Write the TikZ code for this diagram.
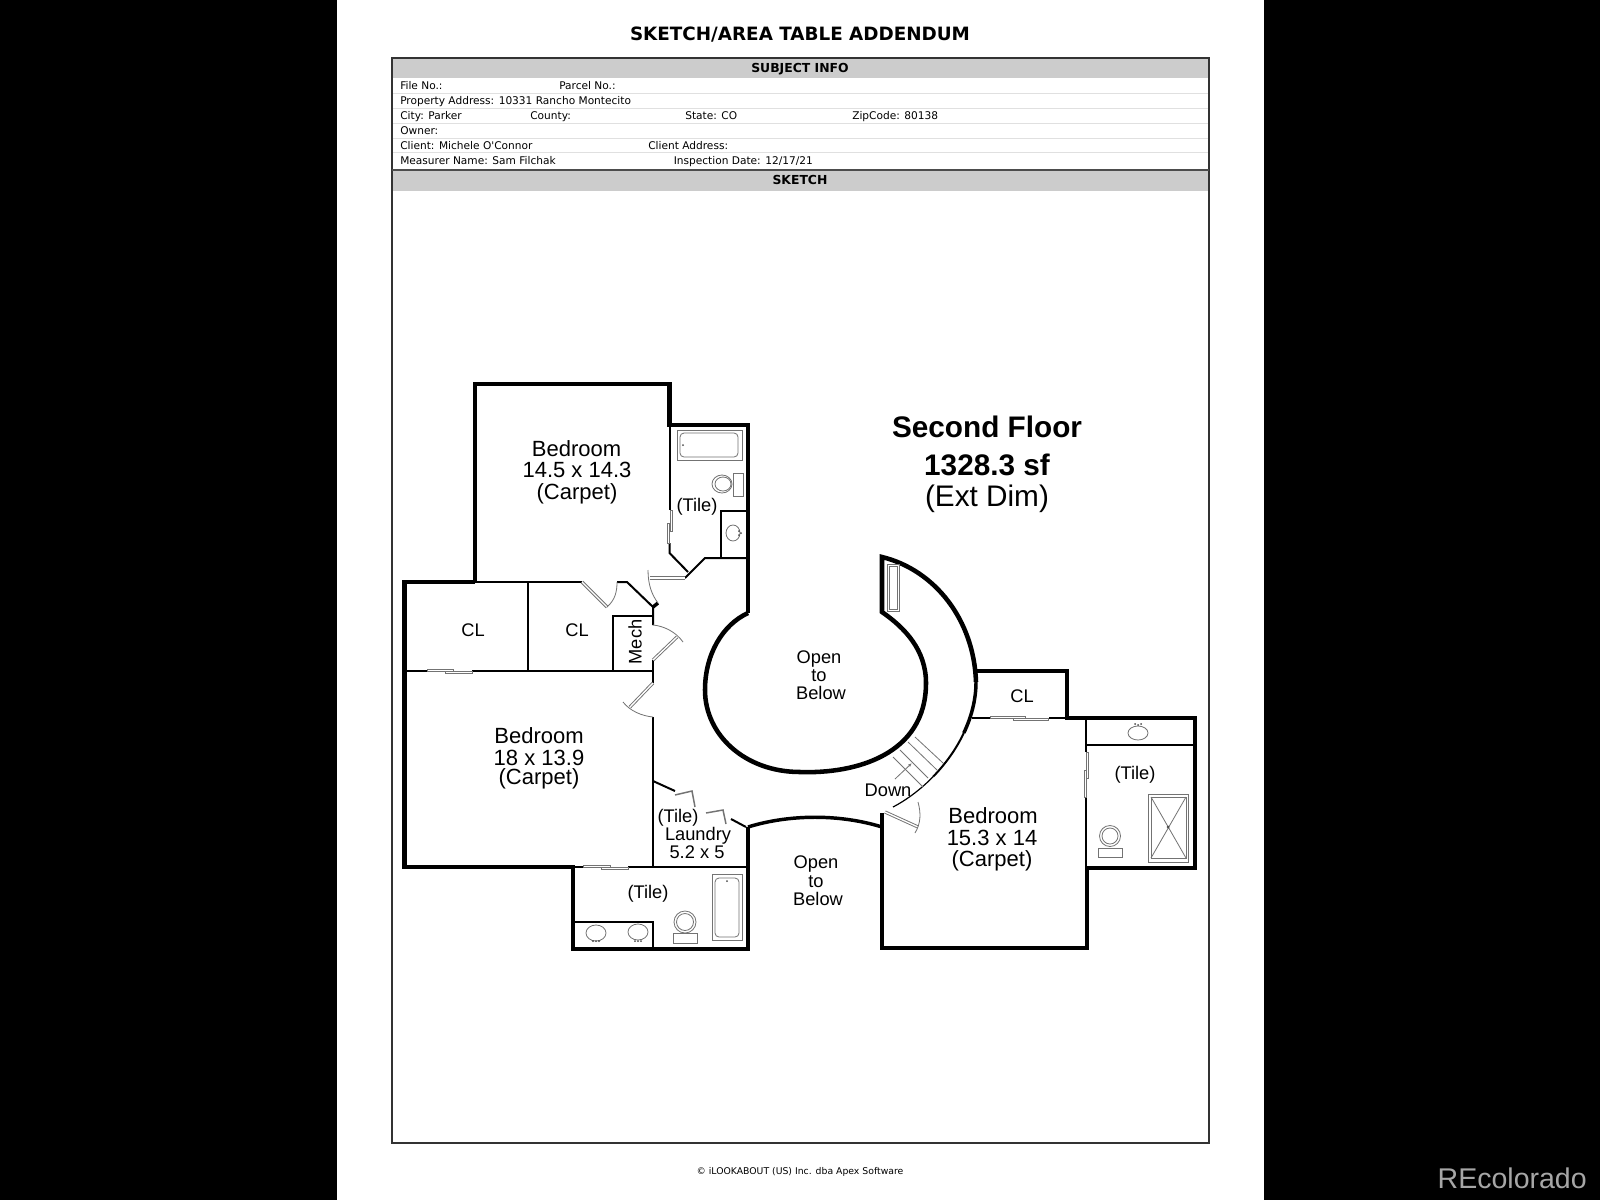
\documentclass[tikz,border=0pt]{standalone}
\usepackage{fontspec}
\usetikzlibrary{arrows.meta}
\setmainfont{Liberation Sans}
\newfontfamily\verd{DejaVu Sans}
\definecolor{hdr}{gray}{0.80}
\definecolor{dr}{gray}{0.45}
\tikzset{
 wall/.style={line width=3.4pt,line join=miter,miter limit=10},
 mid/.style={line width=2.6pt,line join=miter},
 thinw/.style={line width=1.5pt,line join=miter},
 doorl/.style={line width=0.6pt,draw=dr},
 fix/.style={line width=0.6pt,draw=black!55},
 big/.style={inner sep=0pt,anchor=base,font=\fontsize{16.5}{16.5}\selectfont},
 small/.style={inner sep=0pt,anchor=base,font=\fontsize{13.7}{13.7}\selectfont},
 huge/.style={inner sep=0pt,anchor=base,font=\fontsize{22.3}{22.3}\selectfont},
 hugeb/.style={inner sep=0pt,anchor=base,font=\bfseries\fontsize{22.3}{22.3}\selectfont},
 row/.style={inner sep=0pt,anchor=base west,font=\verd\fontsize{7.95}{7.95}\selectfont},
 hd/.style={inner sep=0pt,anchor=base,font=\verd\bfseries\fontsize{9.3}{9.3}\selectfont}
}
\newcommand{\slider}[4]{\fill[white,draw=dr,line width=0.5pt] (#1,#2) rectangle (#3,#4);}
\newcommand{\leaf}[4]{\draw[dr,line width=2.4pt] (#1,#2)--(#3,#4);\draw[white,line width=1pt] (#1,#2)--(#3,#4);}
\begin{document}
\begin{tikzpicture}[x=0.75pt,y=-0.75pt]
\useasboundingbox (0,0) rectangle (1600,1200);
\fill[black] (0,0) rectangle (1600,1200);
\fill[white] (337,0) rectangle (1264,1200);
% table
\node[inner sep=0pt,anchor=base,font=\verd\bfseries\fontsize{13.75}{13.75}\selectfont] (title) at (800,40) {SKETCH/AREA TABLE ADDENDUM};
\fill[hdr] (392,58) rectangle (1209,78);
\fill[hdr] (392,170) rectangle (1209,191);
\foreach \yy in {93,108,123,138,152}{\draw[black!12,line width=0.7pt] (392,\yy)--(1209,\yy);}
\draw[black!80,line width=0.9pt] (392,58) rectangle (1209,1143);
\draw[black!70,line width=0.9pt] (392,170)--(1209,170);
\node[hd] (h1) at (800,72) {SUBJECT INFO};
\node[hd] (h2) at (800,184) {SKETCH};
\node[row] (r1) at (400,89.5) {File No.:};
\node[row] (r1b) at (559,89.5) {Parcel No.:};
\node[row] (r2) at (400,104) {Property Address: 10331 Rancho Montecito};
\node[row] (r3) at (400,119) {City: Parker};
\node[row] (r3b) at (530,119) {County:};
\node[row] (r3c) at (685,119) {State: CO};
\node[row] (r3d) at (852,119) {ZipCode: 80138};
\node[row] (r4) at (400,134) {Owner:};
\node[row] (r5) at (400,149) {Client: Michele O'Connor};
\node[row] (r5b) at (648,149) {Client Address:};
\node[row] (r6) at (400,164) {Measurer Name: Sam Filchak};
\node[row] (r6b) at (673.5,164) {Inspection Date: 12/17/21};
\node[inner sep=0pt,font=\verd\fontsize{6.97}{6.97}\selectfont] (foot) at (800,1171.5) {© iLOOKABOUT (US) Inc. dba Apex Software};
\node[inner sep=0pt,anchor=east,text=black!35,font=\fontsize{21.4}{21.4}\selectfont] (wm) at (1587,1178) {REcolorado};
% thick outer walls
\draw[wall] (475,582)--(475,384)--(669.5,384)--(669.5,425)--(748,425)--(748,613);
\draw[wall] (475,582)--(404.5,582)--(404.5,867)--(573,867)--(573,949)--(748,949)--(748,827);
\draw[wall] (977,671)--(1067,671)--(1067,718)--(1195,718)--(1195,868)--(1087,868)--(1087,948)--(882,948)--(882,813);
% curved void walls
\draw[wall] (748,613) .. controls (722,625) and (705,655) .. (705,690)
  .. controls (705,735) and (745,772) .. (800,772)
  .. controls (855,774) and (926,755) .. (926,683)
  .. controls (926,650) and (905,628) .. (882,612) -- (882,557)
  .. controls (935,570) and (974,620) .. (976,682);
\draw[mid] (976,682) .. controls (976,699.7) and (971.4,717) .. (963.8,733);
\draw[thinw] (963.8,733) .. controls (956.2,749.1) and (945.5,763.9) .. (933.2,776.6);
\draw[line width=0.9pt] (933.2,776.6) .. controls (920.9,789.2) and (907,799.7) .. (893,807);
\draw[mid] (748,827) .. controls (790,814) and (840,814) .. (882,827);
% thin interior
\draw[thinw] (475,582)--(582,582);
\draw[thinw] (617,582)--(627,582)--(653,607)--(653,625);
\draw[mid] (653,607)--(658,603);
\draw[thinw] (653,660)--(653,683);
\draw[thinw] (404,671)--(427,671);
\draw[thinw] (472,671)--(653,671);
\draw[thinw] (528,582)--(528,671);
\draw[thinw] (613,671)--(613,616)--(653,616);
\draw[thinw] (669.5,425)--(669.5,510);
\draw[thinw] (669.5,543)--(669.5,553)--(688,572);
\draw[thinw] (685,578)--(705,558)--(748,558);
\draw[thinw] (721,558)--(721,511)--(748,511);
\draw[thinw] (653,717)--(653,867);
\draw[thinw] (628,867)--(748,867);
\draw[thinw] (573,867)--(583,867);
\draw[thinw] (653,781)--(675,791);
\draw[thinw] (731,819)--(746,827);
\draw[thinw] (573,922)--(653,922)--(653,949);
\draw[thinw] (972,718)--(990,718);
\draw[thinw] (1049,718)--(1067,718);
\draw[thinw] (1086,718)--(1086,752);
\draw[thinw] (1086,797)--(1086,868);
\draw[thinw] (1086,745)--(1195,745);
% sliding doors
\slider{427}{669}{453}{671}\slider{445}{671}{472}{673}
\slider{583}{865.5}{610}{867.5}\slider{601}{867}{628}{869}
\slider{990}{716.5}{1025}{718.5}\slider{1013}{718}{1048}{720}
\slider{670.5}{510}{672.5}{531}\slider{667.5}{523}{669.5}{543}
\slider{1086.5}{752}{1088.5}{778}\slider{1084}{770}{1086}{797}
% swing doors
\leaf{582}{582}{607}{607}
\draw[doorl] (607,607) .. controls (615,600) and (617,592) .. (617,582);
\leaf{650}{578}{685}{578}
\draw[doorl] (648,570) .. controls (648,585) and (652,595) .. (658,603);
\leaf{653}{660}{677}{637}
\draw[doorl] (653,625) .. controls (664,626) and (676,632) .. (683,642);
\leaf{653}{683}{630}{707}
\draw[doorl] (653,717) .. controls (642,716) and (630,711) .. (623,702);
\leaf{885}{812}{918}{827}
\draw[doorl] (918,802) .. controls (921,813) and (921,823) .. (915,833);
% laundry bifold
\draw[dr,line width=1.1pt] (675,795)--(692,791)--(695,807);
\draw[dr,line width=1.1pt] (706,813)--(723,810)--(726,824);
% top bath fixtures
\draw[fix] (677,430) rectangle (742,460);
\draw[fix,rounded corners=3pt] (680,433) rectangle (738,457);
\fill[black!70] (683,445) circle (1);
\draw[fix] (733,473) rectangle (743,496);
\draw[fix] (722,484) ellipse (10 and 9);
\draw[fix] (723,484) ellipse (8 and 7);
\draw[fix] (733,533) ellipse (7 and 8);
\fill[black!70] (739,531) circle (1) (739,535) circle (1) (741,533) circle (1);
% closet rect
\draw[doorl] (887,564) rectangle (899,611);
\draw[doorl] (889,566) rectangle (897,609);
% stairs
\foreach \a/\b/\c/\d in {915/737/943/763,908/742/937/770,900/750/928/778,893/757/923/787}{\draw[fix] (\a,\b)--(\c,\d);}
\draw[fix,-{Latex[length=3pt]}] (895,779)--(912,763);
% right bath
\draw[fix] (1138,733) ellipse (10 and 7);
\fill[black!70] (1135,724) circle (1) (1138,725) circle (1) (1141,724) circle (1);
\draw[fix] (1148,794) rectangle (1188,862);
\draw[fix] (1151,797) rectangle (1186,858);
\draw[fix] (1151,797)--(1186,858) (1186,797)--(1151,858);
\fill[black!70] (1168,827) circle (1.5);
\draw[fix] (1110,836) circle (10.5);
\draw[fix] (1110,836) circle (8);
\draw[fix] (1098,848) rectangle (1122,857);
% bottom bath
\draw[fix] (712,874) rectangle (742,940);
\draw[fix,rounded corners=3pt] (715,878) rectangle (739,937);
\fill[black!70] (727,881) circle (1);
\draw[fix] (685,922) circle (11);
\draw[fix] (685,922) circle (8.5);
\draw[fix] (673,933) rectangle (697,943);
\draw[fix] (596,933) ellipse (10 and 8);
\draw[fix] (638,932) ellipse (10 and 8);
\fill[black!70] (593,941) circle (1) (596,941) circle (1) (599,941) circle (1);
\fill[black!70] (635,941) circle (1) (638,941) circle (1) (641,941) circle (1);
% labels
\node[hugeb] (t1) at (987,437.5) {Second Floor};
\node[hugeb] (t2) at (987,475.5) {1328.3 sf};
\node[huge] (t3) at (987,506.5) {(Ext Dim)};
\node[big] (b1a) at (576.5,456) {Bedroom};
\node[big] (b1b) at (577,477.5) {14.5 x 14.3};
\node[big] (b1c) at (577,499.5) {(Carpet)};
\node[big] (b2a) at (539,743) {Bedroom};
\node[big] (b2b) at (539,765) {18 x 13.9};
\node[big] (b2c) at (539,784.5) {(Carpet)};
\node[big] (b3a) at (993,823) {Bedroom};
\node[big] (b3b) at (992,845) {15.3 x 14};
\node[big] (b3c) at (992,866.5) {(Carpet)};
\node[small] (c1) at (473,636.5) {CL};
\node[small] (c2) at (577,636.5) {CL};
\node[small] (c3) at (1022,702.5) {CL};
\node[small,rotate=90] (mech) at (641.5,642) {Mech};
\node[small] (tile1) at (697,511.5) {(Tile)};
\node[small] (tile2) at (1135,779.5) {(Tile)};
\node[small] (tile3) at (678,822.5) {(Tile)};
\node[small] (tile4) at (648,898.5) {(Tile)};
\node[small] (l1) at (698,840) {Laundry};
\node[small] (l2) at (697,858.5) {5.2 x 5};
\node[small] (o1a) at (819,663.5) {Open};
\node[small] (o1b) at (819,681.5) {to};
\node[small] (o1c) at (821,699.5) {Below};
\node[small] (o2a) at (816,868.5) {Open};
\node[small] (o2b) at (816,887.5) {to};
\node[small] (o2c) at (818,905.5) {Below};
\node[small] (down) at (888,796.5) {Down};
\end{tikzpicture}
\end{document}
